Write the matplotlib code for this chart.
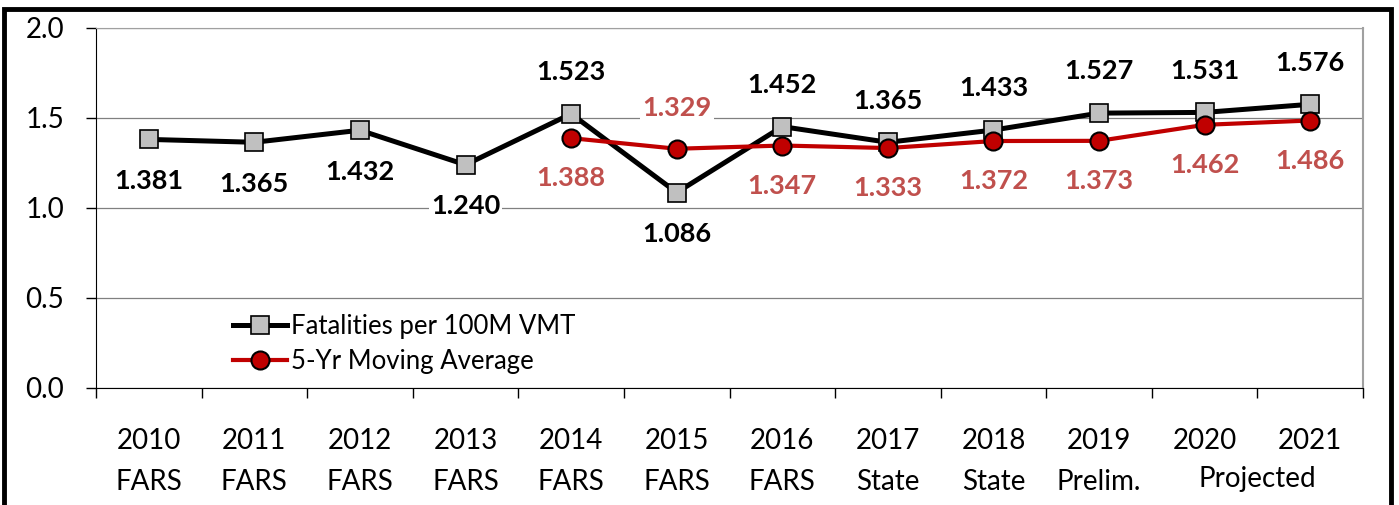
import numpy as np
import matplotlib.pyplot as plt
from matplotlib.patches import Rectangle
from matplotlib.ticker import FixedLocator, NullFormatter

plt.rcParams['font.family'] = ['Lato', 'DejaVu Sans']

years = ['2010', '2011', '2012', '2013', '2014', '2015', '2016',
         '2017', '2018', '2019', '2020', '2021']
sources = ['FARS', 'FARS', 'FARS', 'FARS', 'FARS', 'FARS', 'FARS',
           'State', 'State', 'Prelim.', None, None]
fatal_rate = [1.381, 1.365, 1.432, 1.240, 1.523, 1.086, 1.452,
              1.365, 1.433, 1.527, 1.531, 1.576]
moving_avg = [None, None, None, None, 1.388, 1.329, 1.347,
              1.333, 1.372, 1.373, 1.462, 1.486]
# label placement: +1 above the point, -1 below
fatal_side = [-1, -1, -1, -1, 1, -1, 1, 1, 1, 1, 1, 1]
avg_side = [0, 0, 0, 0, -1, 1, -1, -1, -1, -1, -1, -1]

x = np.arange(len(years))
ma = np.array([np.nan if v is None else v for v in moving_avg])

fig = plt.figure(figsize=(13.99, 5.05), dpi=100)
ax = fig.add_axes([0.0686, 0.2317, 0.9057, 0.7129])

ax.plot(x, fatal_rate, color='black', lw=3.6, marker='s', ms=13,
        mfc='#C0C0C0', mec='black', mew=1.2, zorder=4,
        label='Fatalities per 100M VMT')
ax.plot(x, ma, color='#C00000', lw=3.0, marker='o', ms=13,
        mfc='#C00000', mec='black', mew=1.5, zorder=5,
        label='5-Yr Moving Average')

box = dict(facecolor='white', edgecolor='none', pad=1.5)
for xi, v, s in zip(x, fatal_rate, fatal_side):
    ax.annotate(f'{v:.3f}', (xi, v), xytext=(0, 30 * s), textcoords='offset points',
                ha='center', va='center', fontsize=19.5, fontweight='bold',
                color='black', bbox=box, zorder=3)
for xi, v, s in zip(x, ma, avg_side):
    if np.isnan(v):
        continue
    ax.annotate(f'{v:.3f}', (xi, v), xytext=(0, 29 * s), textcoords='offset points',
                ha='center', va='center', fontsize=19.5, fontweight='bold',
                color='#C0504D', bbox=box, zorder=3)

ax.set_xlim(-0.5, len(years) - 0.5)
ax.set_ylim(0, 2.0)
ax.set_yticks([0, 0.5, 1.0, 1.5, 2.0])
ax.set_yticklabels(['0.0', '0.5', '1.0', '1.5', '2.0'])
ax.yaxis.grid(True, color='#808080', lw=0.9)
ax.set_axisbelow(True)

ax.set_xticks(x)
ax.set_xticklabels([y if s is None else f'{y}\n{s}' for y, s in zip(years, sources)])
ax.xaxis.set_minor_locator(FixedLocator(np.arange(-0.5, len(years), 1.0)))
ax.xaxis.set_minor_formatter(NullFormatter())
ax.tick_params(axis='x', which='major', length=0, pad=29, labelsize=20)
ax.tick_params(axis='x', which='minor', length=7, width=1, direction='out')
ax.tick_params(axis='y', length=7, width=1, labelsize=20, pad=16)
for lbl in ax.get_xticklabels():
    lbl.set_linespacing(1.68)
# the last two years share one "Projected" label
ax.text(10.5, -0.505, 'Projected', ha='center', va='center', fontsize=20,
        clip_on=False)

ax.spines['left'].set_color('black')
ax.spines['bottom'].set_color('black')
ax.spines['top'].set_color('#A0A0A0')
ax.spines['right'].set_color('#A0A0A0')
ax.spines['right'].set_linewidth(1.5)

ax.legend(loc='lower left', bbox_to_anchor=(0.1, 0.01), frameon=False,
          fontsize=18.5, handlelength=2.1, handletextpad=0.15, labelspacing=0.4,
          borderaxespad=0)

fig.patches.append(Rectangle((0.0029, -0.1), 0.9914, 1.082, transform=fig.transFigure,
                             fill=False, edgecolor='black', lw=3.5))

fig.savefig('out.png', dpi=100)
